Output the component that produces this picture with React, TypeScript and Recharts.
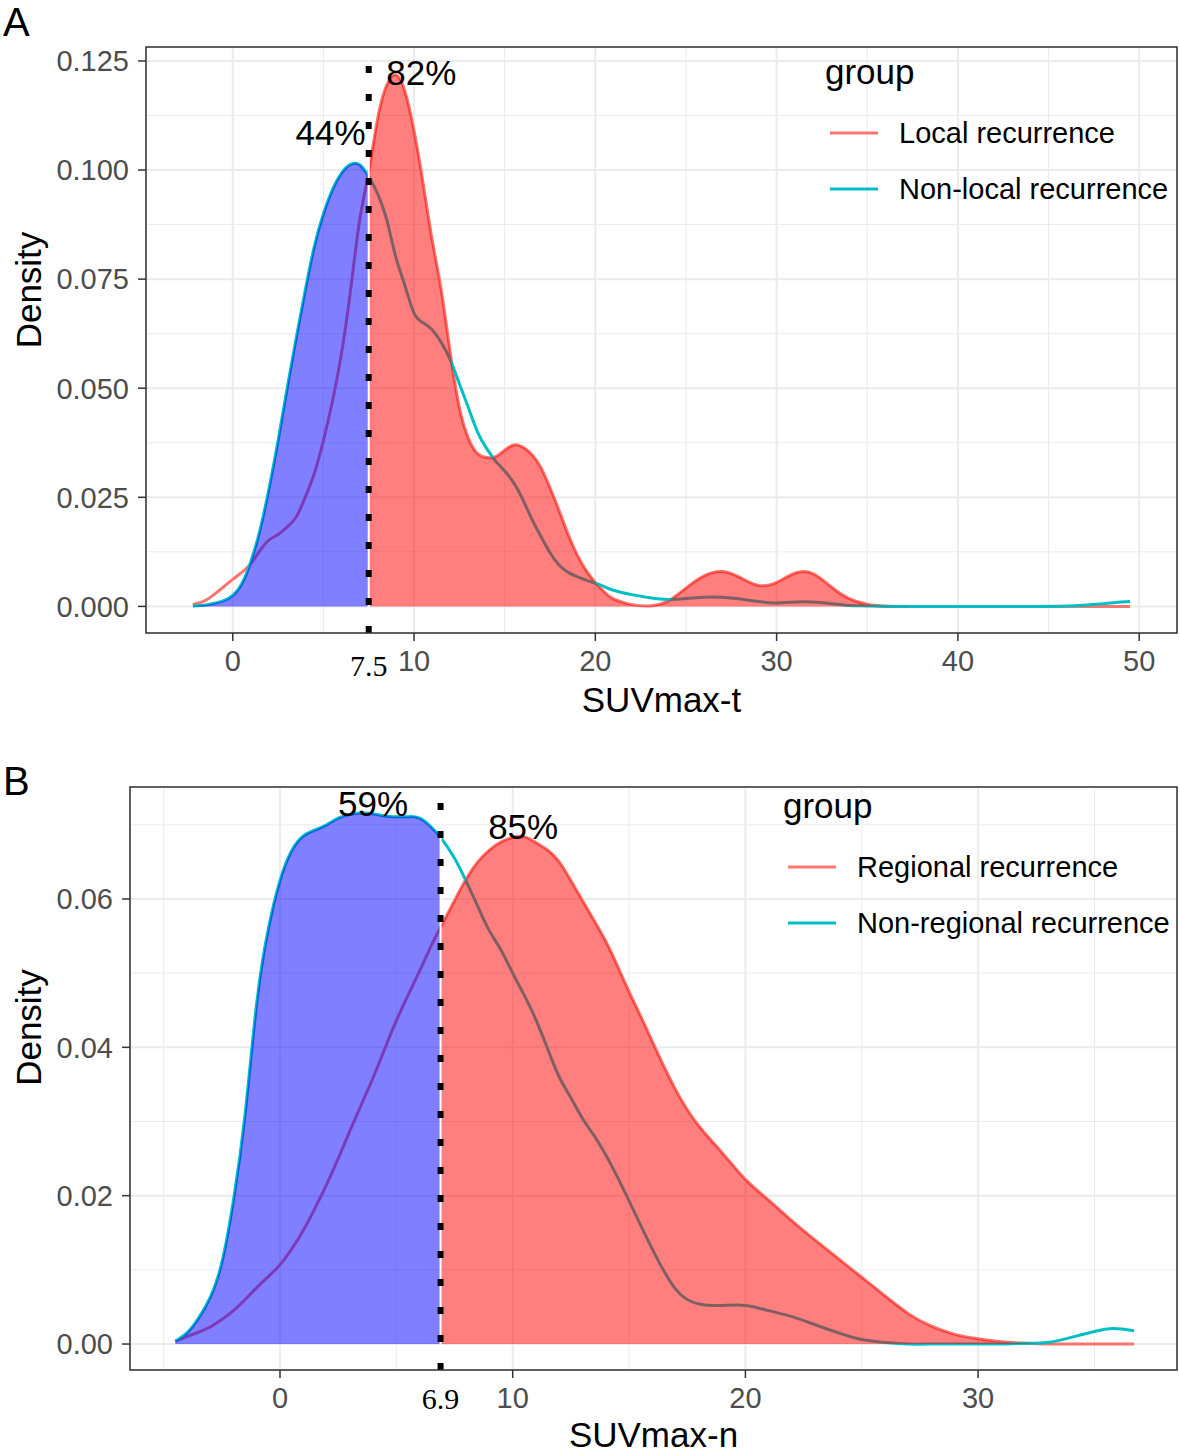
import React from 'react';
import {
  ComposedChart,
  Line,
  Area,
  XAxis,
  YAxis,
  CartesianGrid,
  ReferenceLine,
  ReferenceDot,
  ReferenceArea,
  Legend,
  Label,
} from 'recharts';

const FONT = '"Liberation Sans", Arial, Helvetica, sans-serif';
const SERIF = '"Liberation Serif", "Times New Roman", serif';
const RED = '#F8766D';
const CYAN = '#00BFC4';

// ---- Panel A: SUVmax-t ----
const suvT = [
  -2.2, -1.5, -1, -0.5, 0, 0.5, 1, 1.5, 2, 2.5, 3, 3.5, 4, 4.5, 5, 5.5, 6, 6.5, 7, 7.5,
  8, 8.5, 9, 9.5, 10, 10.5, 11, 11.5, 12, 12.5, 13, 13.5, 14, 14.5, 15, 15.5, 16, 16.5,
  17, 17.5, 18, 18.5, 19, 19.5, 20, 20.5, 21, 22, 23, 24, 25, 26, 27, 28, 29, 30, 31,
  32, 33, 34, 35, 36, 38, 40, 42, 44, 46, 47, 48, 49, 49.5,
];
const localDensity = [
  0.0004, 0.0014, 0.0028, 0.0045, 0.0062, 0.0078, 0.0098, 0.0128, 0.0152, 0.0165, 0.0182,
  0.0205, 0.025, 0.0305, 0.038, 0.047, 0.058, 0.0725, 0.0885, 0.0995,
  0.112, 0.1195, 0.1218, 0.118, 0.109, 0.097, 0.084, 0.0725, 0.0581, 0.0456, 0.0385,
  0.035, 0.0341, 0.0343, 0.0358, 0.037, 0.0365, 0.0348, 0.0318, 0.0272, 0.022, 0.0165,
  0.0118, 0.0082, 0.0055, 0.0033, 0.0017, 0.0004, 0.0001, 0.0012, 0.0042, 0.007, 0.008,
  0.0066, 0.0048, 0.0055, 0.0076, 0.0075, 0.0045, 0.0018, 0.0005, 0.0001, 0, 0, 0, 0, 0,
  0, 0, 0, 0,
];
const nonLocalDensity = [
  0.0001, 0.0003, 0.0007, 0.0013, 0.0025, 0.0052, 0.0103, 0.0175, 0.027, 0.038, 0.05,
  0.0615, 0.0725, 0.0825, 0.09, 0.0955, 0.0993, 0.1013, 0.1012, 0.0985,
  0.0945, 0.0885, 0.08, 0.0735, 0.0672, 0.065, 0.0634, 0.0605, 0.0565, 0.051, 0.0455,
  0.04, 0.0362, 0.0333, 0.031, 0.0283, 0.0245, 0.02, 0.016, 0.0123, 0.0095, 0.0078,
  0.0068, 0.006, 0.0053, 0.0045, 0.0037, 0.0027, 0.002, 0.0016, 0.0018, 0.0021, 0.0021,
  0.0017, 0.0011, 0.0008, 0.001, 0.001, 0.0006, 0.0002, 0.0001, 0, 0, 0, 0, 0, 0.0001,
  0.0003, 0.0006, 0.001, 0.0011,
];
const cutT = 7.5;
const xTicksA = [0, 10, 20, 30, 40, 50];
const xMinorA = [5, 15, 25, 35, 45];
const yTicksA = [0, 0.025, 0.05, 0.075, 0.1, 0.125];
const yMinorA = [0.0125, 0.0375, 0.0625, 0.0875, 0.1125];
const pctA = [
  { x: 10.4, y: 0.1223, text: '82%' },
  { x: 5.4, y: 0.1085, text: '44%' },
];

// ---- Panel B: SUVmax-n ----
const suvN = [
  -4.5, -4, -3.5, -3, -2.5, -2, -1.5, -1, -0.5, 0, 0.5, 1, 1.5, 2, 2.5, 3, 3.5, 4, 4.5,
  5, 5.5, 6, 6.5, 6.9, 7.5, 8, 8.5, 9, 9.5, 10, 10.5, 11, 11.5, 12, 12.5, 13, 13.5, 14,
  14.5, 15, 15.5, 16, 17, 18, 19, 20, 21, 22, 23, 24, 25, 26, 27, 28, 29, 30, 31, 32, 33,
  34, 35, 35.8, 36.7,
];
const regionalDensity = [
  0.0004, 0.001, 0.0016, 0.0023, 0.0033, 0.0045, 0.006, 0.0076, 0.0091, 0.0107, 0.0128,
  0.0153, 0.0183, 0.0215, 0.025, 0.0287, 0.0323, 0.0359, 0.0398, 0.0436, 0.047, 0.0503,
  0.0537, 0.0562, 0.0598, 0.0627, 0.065, 0.0666, 0.0677, 0.0683, 0.0684, 0.0676, 0.0666,
  0.065, 0.0625, 0.0598, 0.0571, 0.0543, 0.051, 0.0475, 0.0442, 0.0408, 0.0343, 0.0294,
  0.0258, 0.0222, 0.0194, 0.0166, 0.014, 0.0115, 0.009, 0.0065, 0.0041, 0.0024, 0.0013,
  0.0007, 0.0003, 0.0001, 0, 0, 0, 0, 0,
];
const nonRegionalDensity = [
  0.0004, 0.0015, 0.0035, 0.0063, 0.011, 0.0194, 0.031, 0.046, 0.056, 0.0625, 0.0665,
  0.0685, 0.0693, 0.07, 0.0709, 0.0714, 0.0716, 0.0715, 0.0712, 0.0711, 0.0711, 0.0709,
  0.0697, 0.0683, 0.0655, 0.0624, 0.059, 0.0557, 0.0531, 0.05, 0.047, 0.0437, 0.0398,
  0.036, 0.0332, 0.0304, 0.0281, 0.0255, 0.0225, 0.0193, 0.016, 0.0128, 0.0074, 0.0054,
  0.0052, 0.0052, 0.0045, 0.0037, 0.0026, 0.0015, 0.0006, 0.0002, 0, 0, 0, 0, 0, 0.0001,
  0.0002, 0.0009, 0.0017, 0.0021, 0.0018,
];
const cutN = 6.9;
const xTicksB = [0, 10, 20, 30];
const xMinorB = [-5, 5, 15, 25, 35];
const yTicksB = [0, 0.02, 0.04, 0.06];
const yMinorB = [0.01, 0.03, 0.05, 0.07];
const pctB = [
  { x: 4.0, y: 0.0728, text: '59%' },
  { x: 10.45, y: 0.0698, text: '85%' },
];

function buildRows(xs: number[], hi: number[], lo: number[], cut: number) {
  return xs.map((x, i) => ({
    x,
    hi: hi[i],
    lo: lo[i],
    leftFill: x <= cut ? lo[i] : null,
    rightFill: x >= cut ? hi[i] : null,
  }));
}

const densityTitle = (lift: number) => (props: any) => {
  const vb = props.viewBox || { y: 0, height: 0 };
  const cx = 28;
  const cy = vb.y + vb.height / 2 - lift;
  return (
    <text
      x={cx}
      y={cy}
      transform={`rotate(-90 ${cx} ${cy})`}
      textAnchor="middle"
      dominantBaseline="central"
      fontSize={35}
      fontFamily={FONT}
      fill="#000"
    >
      Density
    </text>
  );
};

const legendContent = (props: any) => {
  const items = (props.payload || []).filter((e: any) => e.dataKey === 'hi' || e.dataKey === 'lo');
  items.sort((a: any, b: any) => (a.dataKey === 'hi' ? -1 : 1) - (b.dataKey === 'hi' ? -1 : 1));
  return (
    <div style={{ fontFamily: FONT, color: '#000' }}>
      <div style={{ fontSize: 35, lineHeight: '40px', height: 40 }}>group</div>
      <div style={{ marginTop: 13 }}>
        {items.map((e: any) => (
          <div key={e.value} style={{ display: 'flex', alignItems: 'center', height: 56 }}>
            <svg width={70} height={10} style={{ flex: 'none' }}>
              <line x1={5} x2={53} y1={5} y2={5} stroke={e.color} strokeWidth={3} />
            </svg>
            <span style={{ fontSize: 29, marginLeft: 4, whiteSpace: 'nowrap' }}>{e.value}</span>
          </div>
        ))}
      </div>
    </div>
  );
};

type PanelProps = {
  top: number;
  height: number;
  marginTop: number;
  marginBottom: number;
  yAxisWidth: number;
  rows: any[];
  xDomain: [number, number];
  yDomain: [number, number];
  xTicks: number[];
  xMinor: number[];
  yTicks: number[];
  yMinor: number[];
  digits: number;
  hiName: string;
  loName: string;
  cut: number;
  cutOffset: number;
  pct: { x: number; y: number; text: string }[];
  xTitle: string;
  xTitleOffset: number;
  legendLeft: number;
  legendTop: number;
  titleLift: number;
};

function DensityPanel(p: PanelProps) {
  const tickStyle = { fontSize: 29, fill: '#4D4D4D', fontFamily: FONT };
  return (
    <div style={{ position: 'absolute', left: 0, top: p.top }}>
      <ComposedChart
        width={1180}
        height={p.height}
        data={p.rows}
        margin={{ top: p.marginTop, right: 3, bottom: p.marginBottom, left: 10 }}
      >
        <CartesianGrid stroke="#EBEBEB" strokeWidth={1} horizontalValues={p.yMinor} verticalValues={p.xMinor} />
        <CartesianGrid stroke="#EBEBEB" strokeWidth={2} />
        <XAxis
          dataKey="x"
          type="number"
          domain={p.xDomain}
          ticks={p.xTicks}
          allowDataOverflow
          axisLine={false}
          tickLine={{ stroke: '#333333', strokeWidth: 1.5 }}
          tickSize={8}
          tickMargin={9}
          tick={tickStyle}
          height={80}
        >
          <Label value={p.xTitle} position="insideBottom" offset={p.xTitleOffset} fontSize={35} fill="#000" fontFamily={FONT} />
        </XAxis>
        <YAxis
          type="number"
          domain={p.yDomain}
          ticks={p.yTicks}
          allowDataOverflow
          axisLine={false}
          tickLine={{ stroke: '#333333', strokeWidth: 1.5 }}
          tickSize={8}
          tickMargin={9}
          tick={tickStyle}
          tickFormatter={(v: number) => v.toFixed(p.digits)}
          width={p.yAxisWidth}
        >
          <Label content={densityTitle(p.titleLift)} />
        </YAxis>
        <Line
          dataKey="hi"
          name={p.hiName}
          type="natural"
          stroke={RED}
          strokeWidth={3}
          dot={false}
          activeDot={false}
          isAnimationActive={false}
          zIndex={50}
        />
        <Line
          dataKey="lo"
          name={p.loName}
          type="natural"
          stroke={CYAN}
          strokeWidth={3}
          dot={false}
          activeDot={false}
          isAnimationActive={false}
          zIndex={50}
        />
        <Area
          dataKey="leftFill"
          type="natural"
          fill="#0000FF"
          fillOpacity={0.5}
          stroke="none"
          legendType="none"
          isAnimationActive={false}
          zIndex={100}
        />
        <Area
          dataKey="rightFill"
          type="natural"
          fill="#FF0000"
          fillOpacity={0.5}
          stroke="none"
          legendType="none"
          isAnimationActive={false}
          zIndex={100}
        />
        <ReferenceLine x={p.cut} stroke="#FFFFFF" strokeWidth={2} zIndex={550} />
        <ReferenceLine
          x={p.cut}
          stroke="#000000"
          strokeWidth={6}
          strokeDasharray="7 21"
          zIndex={600}
          label={{ value: String(p.cut), position: 'bottom', offset: p.cutOffset, fontSize: 30, fontFamily: SERIF, fill: '#000' }}
        />
        {p.pct.map((d) => (
          <ReferenceDot
            key={d.text}
            x={d.x}
            y={d.y}
            r={0}
            fill="none"
            stroke="none"
            zIndex={700}
            label={{ value: d.text, position: 'center', fontSize: 35, fontFamily: FONT, fill: '#000' }}
          />
        ))}
        <ReferenceArea
          x1={p.xDomain[0]}
          x2={p.xDomain[1]}
          y1={p.yDomain[0]}
          y2={p.yDomain[1]}
          fill="none"
          stroke="#333333"
          strokeWidth={1.5}
          ifOverflow="visible"
          zIndex={800}
        />
        <Legend
          layout="vertical"
          align="center"
          verticalAlign="middle"
          wrapperStyle={{ left: p.legendLeft, top: p.legendTop, width: 380, height: 'auto' }}
          content={legendContent}
        />
      </ComposedChart>
    </div>
  );
}

export default function App() {
  const rowsA = buildRows(suvT, localDensity, nonLocalDensity, cutT);
  const rowsB = buildRows(suvN, regionalDensity, nonRegionalDensity, cutN);
  return (
    <div style={{ position: 'absolute', left: 0, top: 0, width: 1180, height: 1452, background: '#fff', overflow: 'hidden' }}>
      <DensityPanel
        top={0}
        height={720}
        marginTop={47}
        marginBottom={7}
        yAxisWidth={136}
        rows={rowsA}
        xDomain={[-4.785, 52.085]}
        yDomain={[-0.0061, 0.1282]}
        xTicks={xTicksA}
        xMinor={xMinorA}
        yTicks={yTicksA}
        yMinor={yMinorA}
        digits={3}
        hiName="Local recurrence"
        loName="Non-local recurrence"
        cut={cutT}
        cutOffset={22}
        pct={pctA}
        xTitle="SUVmax-t"
        xTitleOffset={1}
        legendLeft={825}
        legendTop={52}
        titleLift={50}
      />
      <DensityPanel
        top={720}
        height={732}
        marginTop={67}
        marginBottom={2}
        yAxisWidth={120}
        rows={rowsB}
        xDomain={[-6.446, 38.547]}
        yDomain={[-0.0035, 0.0751]}
        xTicks={xTicksB}
        xMinor={xMinorB}
        yTicks={yTicksB}
        yMinor={yMinorB}
        digits={2}
        hiName="Regional recurrence"
        loName="Non-regional recurrence"
        cut={cutN}
        cutOffset={18}
        pct={pctB}
        xTitle="SUVmax-n"
        xTitleOffset={3}
        legendLeft={783}
        legendTop={66}
        titleLift={51}
      />
      <svg width={1180} height={1452} style={{ position: 'absolute', left: 0, top: 0, pointerEvents: 'none' }}>
        <text x={3} y={36} fontSize={40} fontFamily={FONT} fill="#000">A</text>
        <text x={3} y={795} fontSize={40} fontFamily={FONT} fill="#000">B</text>
      </svg>
    </div>
  );
}
